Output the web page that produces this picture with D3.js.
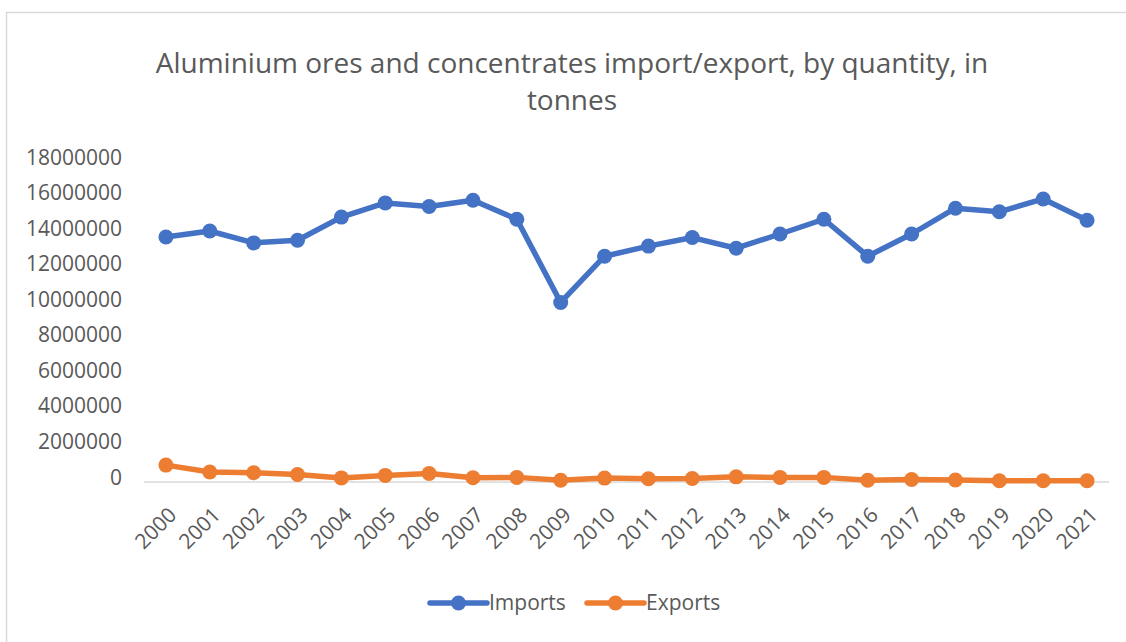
<!DOCTYPE html>
<head>
  <meta charset="utf-8">
  <title>index.html</title>
</head>
<style>
body { margin: 0; background: #fff; }
svg text { font-family: "Open Sans", "Noto Sans", sans-serif; fill: #595959; }
.title { font-size: 28px; }
.tick text { font-size: 21px; }
.legend text { font-size: 21px; }
</style>
<svg width="1126" height="642"></svg>
<script src="https://d3js.org/d3.v7.min.js"></script>
<script>
var years = ["2000", "2001", "2002", "2003", "2004", "2005", "2006", "2007", "2008", "2009", "2010",
             "2011", "2012", "2013", "2014", "2015", "2016", "2017", "2018", "2019", "2020", "2021"];
var imports = [13780000, 14120000, 13450000, 13600000, 14900000, 15700000, 15500000, 15850000, 14780000, 10100000, 12700000,
               13270000, 13750000, 13150000, 13950000, 14780000, 12700000, 13950000, 15400000, 15200000, 15920000, 14720000];
var exports = [950000, 560000, 520000, 420000, 230000, 370000, 480000, 240000, 260000, 100000, 220000,
               180000, 200000, 290000, 260000, 260000, 100000, 140000, 110000, 70000, 70000, 70000];
var yTicks = [0, 2000000, 4000000, 6000000, 8000000, 10000000, 12000000, 14000000, 16000000, 18000000];
var titleLines = ["Aluminium ores and concentrates import/export, by quantity, in", "tonnes"];

var series = [
  { name: "Imports", values: imports, color: "#4472C4" },
  { name: "Exports", values: exports, color: "#ED7D31" }
];

var svg = d3.select("svg"),
    plot = { left: 144, right: 1109, top: 162, bottom: 482 };

// chart area border (runs off the picture on right and bottom)
svg.append("rect")
    .attr("x", 6.5).attr("y", 12.5)
    .attr("width", 1200).attr("height", 700)
    .attr("fill", "none")
    .attr("stroke", "#d9d9d9")
    .attr("stroke-width", 1.5);

svg.append("text")
    .attr("class", "title")
    .attr("text-anchor", "middle")
    .selectAll("tspan")
    .data(titleLines)
    .enter().append("tspan")
      .attr("x", 572)
      .attr("y", function(d, i) { return 73 + i * 37; })
      .text(function(d) { return d; });

var x = d3.scalePoint()
    .domain(years)
    .range([plot.left, plot.right])
    .padding(0.5);

var y = d3.scaleLinear()
    .domain([0, 18000000])
    .range([plot.bottom, plot.top]);

// y axis: labels only
var yAxis = svg.append("g")
    .attr("transform", "translate(" + plot.left + ",0)")
    .call(d3.axisLeft(y).tickValues(yTicks).tickFormat(d3.format("d")).tickSize(0).tickPadding(22));
yAxis.select(".domain").remove();
yAxis.selectAll("text").attr("dy", "0.1em");

// x axis
var xAxis = svg.append("g")
    .attr("transform", "translate(0," + plot.bottom + ")")
    .call(d3.axisBottom(x).tickSize(0).tickSizeOuter(0));
xAxis.select(".domain")
    .attr("d", "M" + plot.left + ",0H" + plot.right)
    .attr("stroke", "#d9d9d9")
    .attr("stroke-width", 1.5);
xAxis.selectAll("text")
    .attr("text-anchor", "end")
    .attr("dy", "0.35em")
    .attr("transform", "translate(4,27) rotate(-45)");

var line = d3.line()
    .x(function(d, i) { return x(years[i]); })
    .y(function(d) { return y(d); });

var groups = svg.selectAll(".series")
    .data(series)
    .enter().append("g")
      .attr("class", "series");

groups.append("path")
    .attr("d", function(s) { return line(s.values); })
    .attr("fill", "none")
    .attr("stroke", function(s) { return s.color; })
    .attr("stroke-width", 5.5)
    .attr("stroke-linejoin", "round");

groups.each(function(s) {
  d3.select(this).selectAll("circle")
    .data(s.values)
    .enter().append("circle")
      .attr("cx", function(d, i) { return x(years[i]); })
      .attr("cy", function(d) { return y(d); })
      .attr("r", 7.5)
      .attr("fill", s.color);
});

// legend
var legend = svg.append("g").attr("class", "legend");
var legendX = [430, 587];
var item = legend.selectAll("g")
    .data(series)
    .enter().append("g")
      .attr("transform", function(s, i) { return "translate(" + legendX[i] + ",603)"; });
item.append("line")
    .attr("x1", 0).attr("x2", 57)
    .attr("stroke", function(s) { return s.color; })
    .attr("stroke-width", 5.5)
    .attr("stroke-linecap", "round");
item.append("circle")
    .attr("cx", 28.5).attr("r", 7.5)
    .attr("fill", function(s) { return s.color; });
item.append("text")
    .attr("x", 59)
    .attr("dy", "0.35em")
    .text(function(s) { return s.name; });
</script>
